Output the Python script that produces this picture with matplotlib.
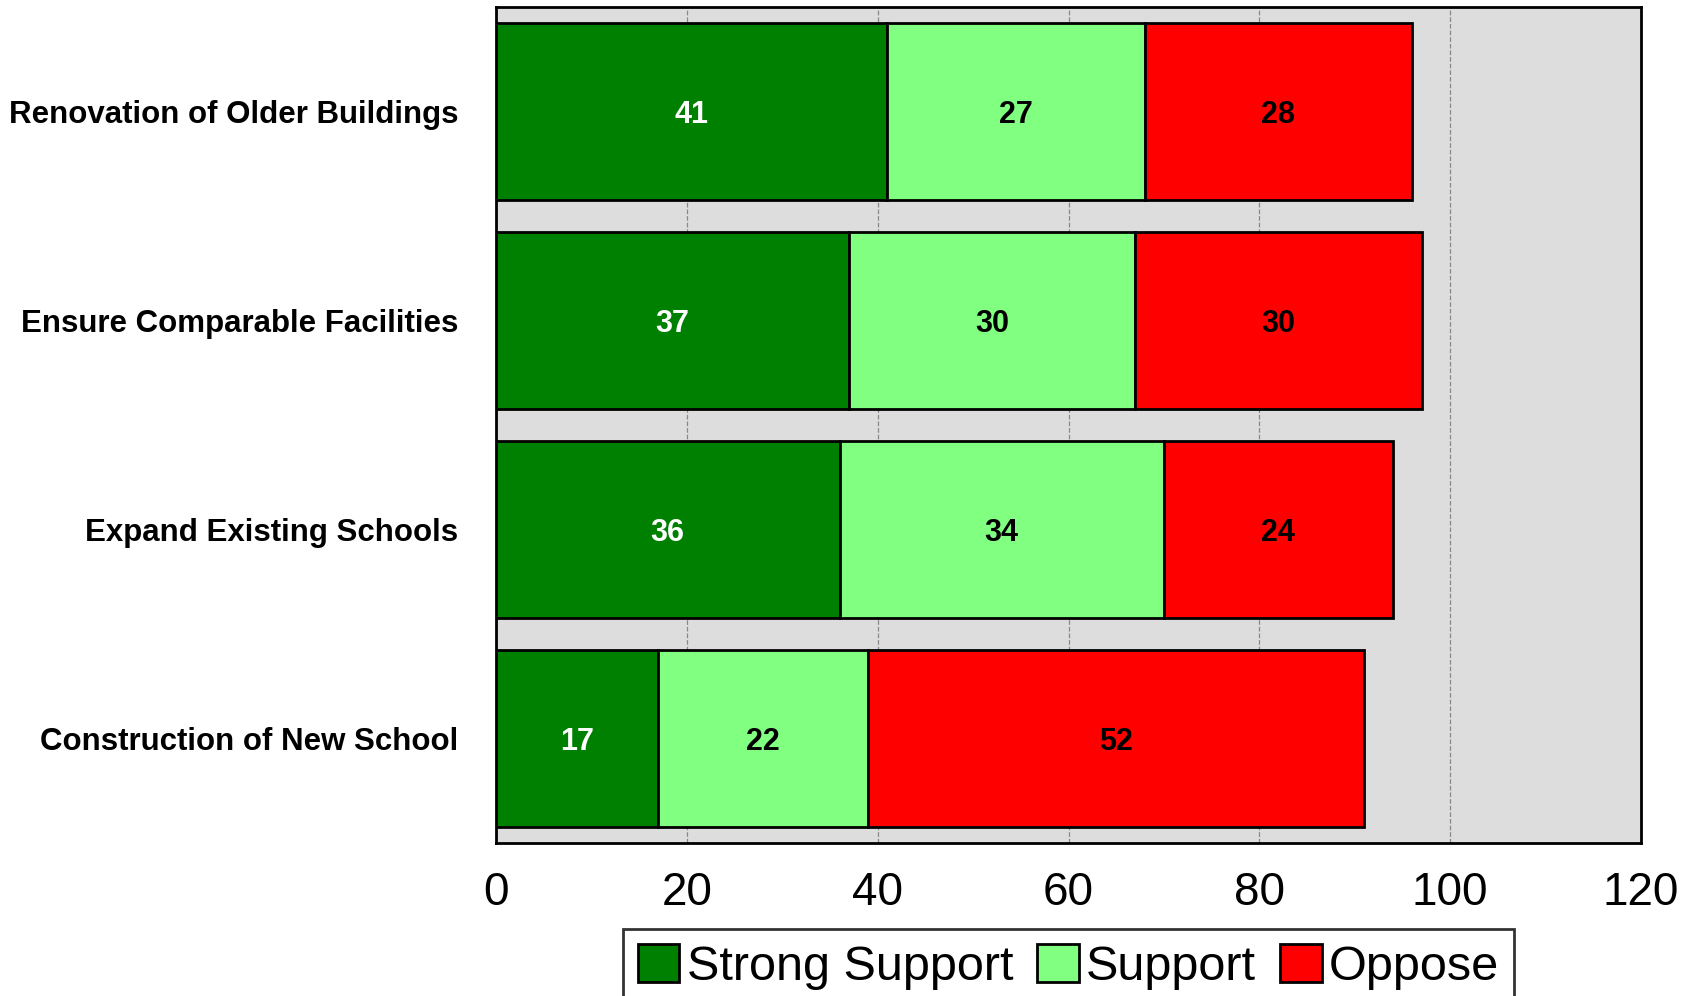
import numpy as np
import matplotlib.pyplot as plt

plt.rcParams['font.family'] = ['Liberation Sans', 'DejaVu Sans']

# 数据
categories = ['Renovation of Older Buildings', 'Ensure Comparable Facilities',
              'Expand Existing Schools', 'Construction of New School']
strong_support = [41, 37, 36, 17]
support = [27, 30, 34, 22]
oppose = [28, 30, 24, 52]
series_names = ['Strong Support', 'Support', 'Oppose']
x_ticks = [0, 20, 40, 60, 80, 100, 120]

fig = plt.figure(figsize=(17, 9.96), dpi=100)
ax = fig.add_axes([496 / 1700, 1 - 843 / 996, (1641 - 496) / 1700, (843 - 7) / 996])
ax.set_facecolor('#DDDDDD')

y = np.arange(len(categories))[::-1]
colors = ['#008000', '#80FF80', '#FF0000']
text_colors = ['white', 'black', 'black']
left = np.zeros(len(categories))
for name, vals, c, tc in zip(series_names, [strong_support, support, oppose], colors, text_colors):
    vals = np.array(vals)
    bars = ax.barh(y, vals, left=left, height=0.845, color=c,
                   edgecolor='black', linewidth=2, label=name, zorder=3)
    for b, v in zip(bars, vals):
        ax.text(b.get_x() + b.get_width() / 2, b.get_y() + b.get_height() / 2,
                f'{v}', ha='center', va='center_baseline', fontsize=22,
                fontweight='bold', color=tc, zorder=4)
    left += vals

ax.set_xlim(0, 120)
ax.set_ylim(-0.5, 3.5)
ax.set_xticks(x_ticks)
ax.set_xticklabels([str(t) for t in x_ticks], fontsize=33)
ax.set_yticks(y)
ax.set_yticklabels(categories, fontsize=22.5, fontweight='bold')
ax.tick_params(axis='both', length=0)
ax.tick_params(axis='x', pad=20)
ax.tick_params(axis='y', pad=27)
ax.grid(True, axis='x', color='#888888', linestyle='--', linewidth=0.9, zorder=1)
for s in ax.spines.values():
    s.set_linewidth(2)

leg = fig.legend(loc='upper center', bbox_to_anchor=((496 + 1641) / 2 / 1700, 1 - 929 / 996),
                 ncol=3, fontsize=35, frameon=True, fancybox=False, edgecolor='black',
                 handlelength=0.85, handleheight=0.85, handletextpad=0.15, columnspacing=0.5,
                 borderpad=0.3, borderaxespad=0)
leg.get_frame().set_linewidth(2)

fig.savefig('out.png', dpi=100)
